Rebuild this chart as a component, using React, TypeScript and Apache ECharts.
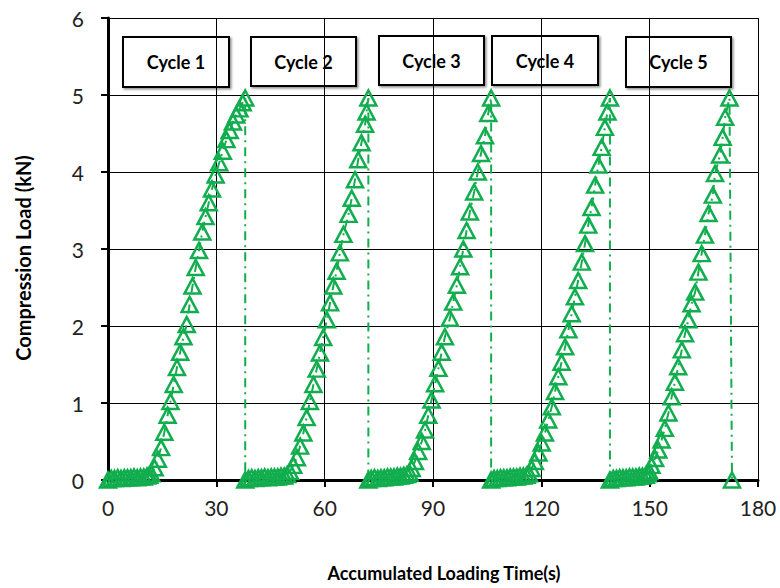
import React, { useEffect, useRef } from "react";
import * as echarts from "echarts";

// ---------- data ----------
const xTicks = [0, 30, 60, 90, 120, 150, 180];
const yTicks = [0, 1, 2, 3, 4, 5, 6];
const cycleLabels = ["Cycle 1", "Cycle 2", "Cycle 3", "Cycle 4", "Cycle 5"];

// Cycle 1
const cycle1Time = [0.0, 0.9, 1.8, 2.7, 3.6, 4.5, 5.4, 6.3, 7.2, 8.1, 9.0, 9.9, 10.8, 11.4,
  12.0, 12.9, 13.8, 14.7, 15.6, 16.5, 17.3, 18.2, 19.1, 20.0, 20.9, 21.8, 22.6, 23.4, 24.3, 25.2,
  26.1, 27.0, 27.9, 28.8, 29.8, 30.8, 31.8, 32.8, 33.7, 34.6, 35.5, 36.4, 37.3, 38.0];
const cycle1Load = [0.0, 0.02, 0.02, 0.03, 0.02, 0.03, 0.03, 0.03, 0.04, 0.03, 0.04, 0.04, 0.05, 0.06,
  0.08, 0.16, 0.27, 0.42, 0.62, 0.84, 1.02, 1.24, 1.46, 1.66, 1.86, 2.02, 2.28, 2.52, 2.76, 2.98,
  3.22, 3.42, 3.6, 3.78, 3.96, 4.12, 4.27, 4.42, 4.54, 4.65, 4.74, 4.82, 4.9, 4.96];

// Cycle 2
const cycle2Time = [38.0, 38.9, 39.8, 40.7, 41.6, 42.5, 43.4, 44.3, 45.2, 46.1, 47.0, 47.9, 48.8, 49.6,
  50.4, 51.3, 52.3, 53.2, 54.1, 55.0, 55.9, 56.9, 57.8, 58.7, 59.6, 60.6, 61.5, 62.4, 63.3, 64.2,
  65.2, 66.6, 67.5, 68.4, 69.3, 70.2, 71.2, 71.6, 72.1];
const cycle2Load = [0.0, 0.02, 0.03, 0.02, 0.03, 0.03, 0.04, 0.03, 0.04, 0.04, 0.04, 0.05, 0.05, 0.07,
  0.11, 0.19, 0.29, 0.44, 0.61, 0.81, 1.02, 1.24, 1.44, 1.65, 1.85, 2.08, 2.3, 2.52, 2.71, 2.95,
  3.19, 3.45, 3.66, 3.9, 4.16, 4.38, 4.62, 4.78, 4.96];

// Cycle 3
const cycle3Time = [72.1, 72.9, 73.8, 74.7, 75.6, 76.5, 77.4, 78.3, 79.2, 80.1, 81.0, 81.9, 82.8, 83.5,
  84.1, 85.0, 85.9, 86.9, 87.8, 88.7, 89.6, 90.6, 91.5, 92.4, 93.3, 94.7, 95.6, 96.6, 97.5, 98.4,
  99.3, 100.2, 101.4, 102.4, 103.3, 104.4, 105.3, 106.1];
const cycle3Load = [0.0, 0.02, 0.03, 0.02, 0.03, 0.03, 0.04, 0.04, 0.04, 0.05, 0.05, 0.06, 0.07, 0.09,
  0.15, 0.24, 0.37, 0.5, 0.65, 0.84, 1.04, 1.25, 1.45, 1.66, 1.86, 2.1, 2.31, 2.53, 2.77, 3.0,
  3.24, 3.48, 3.74, 4.0, 4.24, 4.47, 4.76, 4.96];

// Cycle 4
const cycle4Time = [106.1, 106.9, 107.8, 108.7, 109.6, 110.5, 111.4, 112.3, 113.2, 114.1, 115.0, 115.9, 116.6,
  117.3, 118.2, 119.2, 120.1, 121.0, 121.9, 122.9, 123.8, 124.7, 125.6, 126.6, 127.5, 128.4, 129.3,
  130.2, 131.2, 132.1, 133.0, 133.9, 134.9, 135.8, 136.7, 137.6, 138.3, 139.0];
const cycle4Load = [0.0, 0.02, 0.02, 0.03, 0.03, 0.03, 0.04, 0.04, 0.04, 0.05, 0.05, 0.06, 0.08,
  0.15, 0.24, 0.35, 0.48, 0.61, 0.78, 0.95, 1.15, 1.34, 1.53, 1.73, 1.95, 2.16, 2.38,
  2.59, 2.83, 3.07, 3.31, 3.54, 3.83, 4.09, 4.32, 4.58, 4.78, 4.96];

// Cycle 5
const cycle5Time = [139.0, 139.9, 140.8, 141.7, 142.6, 143.5, 144.4, 145.3, 146.2, 147.1, 148.0, 148.9, 149.5,
  149.9, 150.5, 151.5, 152.4, 153.3, 154.2, 155.2, 156.1, 157.0, 157.9, 158.9, 159.8, 160.7, 161.6,
  162.6, 163.5, 164.4, 165.3, 166.3, 167.5, 168.1, 169.5, 170.2, 170.9, 172.1, 172.8];
const cycle5Load = [0.0, 0.02, 0.02, 0.03, 0.03, 0.03, 0.04, 0.04, 0.04, 0.05, 0.05, 0.06, 0.08,
  0.11, 0.19, 0.28, 0.39, 0.52, 0.67, 0.87, 1.08, 1.27, 1.47, 1.69, 1.9, 2.08, 2.29,
  2.44, 2.7, 2.94, 3.18, 3.46, 3.7, 3.98, 4.22, 4.45, 4.71, 4.96, 0.0];

// ---------- layout / style ----------
const GREEN = "#12AD4E";
const FONT = "Lato";
const boxLayout = [
  { x: 123, y: 37, w: 106, h: 50 },
  { x: 251, y: 37, w: 105, h: 49 },
  { x: 379, y: 36, w: 105, h: 49 },
  { x: 492, y: 36, w: 106, h: 49 },
  { x: 626, y: 37, w: 105, h: 50 },
];

function zip(t: number[], v: number[]) {
  return t.map((x, i) => [x, v[i]]);
}

export default function App() {
  const ref = useRef<HTMLDivElement>(null);
  useEffect(() => {
    document.body.style.margin = "0";
    if (!ref.current) return;
    const chart = echarts.init(ref.current, null, { renderer: "svg" });
    const data = [
      ...zip(cycle1Time, cycle1Load),
      ...zip(cycle2Time, cycle2Load),
      ...zip(cycle3Time, cycle3Load),
      ...zip(cycle4Time, cycle4Load),
      ...zip(cycle5Time, cycle5Load),
    ];
    const graphics: any[] = [];
    cycleLabels.forEach((label, i) => {
      const b = boxLayout[i];
      graphics.push({
        type: "group",
        x: b.x,
        y: b.y,
        z: 100,
        children: [
          {
            type: "rect",
            shape: { x: 0, y: 0, width: b.w, height: b.h },
            style: {
              fill: "#fff",
              stroke: "#000",
              lineWidth: 2,
              shadowColor: "rgba(0,0,0,0.45)",
              shadowBlur: 2,
              shadowOffsetX: 1.5,
              shadowOffsetY: 1.5,
            },
          },
          {
            type: "text",
            x: b.w / 2,
            y: b.h / 2,
            style: {
              text: label,
              fill: "#000",
              font: `bold 18px ${FONT}`,
              align: "center",
              verticalAlign: "middle",
            },
          },
        ],
      });
    });
    chart.setOption({
      animation: false,
      backgroundColor: "#fff",
      grid: { left: 108, right: 22, top: 18, bottom: 108, containLabel: false },
      xAxis: {
        type: "value",
        min: xTicks[0],
        max: xTicks[xTicks.length - 1],
        interval: 30,
        name: "Accumulated Loading Time(s)",
        nameLocation: "middle",
        nameGap: 84,
        nameTextStyle: { fontFamily: FONT, fontWeight: "bold", fontSize: 18, color: "#000", padding: [0, 0, 0, 22] },
        axisLine: { show: true, onZero: false, lineStyle: { color: "#000", width: 3 } },
        axisTick: { show: true, inside: false, length: 7, lineStyle: { color: "#000", width: 2 } },
        axisLabel: { fontFamily: FONT, fontSize: 21, color: "#222", margin: 17 },
        splitLine: { show: true, lineStyle: { color: "#000", width: 1 } },
      },
      yAxis: {
        type: "value",
        min: yTicks[0],
        max: yTicks[yTicks.length - 1],
        interval: 1,
        name: "Compression Load (kN)",
        nameLocation: "middle",
        nameGap: 75,
        nameRotate: 90,
        nameTextStyle: { fontFamily: FONT, fontWeight: "bold", fontSize: 20, color: "#000", padding: [0, 18, 0, 0] },
        axisLine: { show: true, onZero: false, lineStyle: { color: "#000", width: 3 } },
        axisTick: { show: true, inside: false, length: 7, lineStyle: { color: "#000", width: 2 } },
        axisLabel: { fontFamily: FONT, fontSize: 21, color: "#222", margin: 24 },
        splitLine: { show: true, lineStyle: { color: "#000", width: 1 } },
      },
      series: [
        {
          type: "line",
          data,
          symbol: "triangle",
          symbolSize: [16, 15],
          showAllSymbol: true,
          itemStyle: { color: "rgba(0,0,0,0)", borderColor: GREEN, borderWidth: 2.5 },
          lineStyle: { color: GREEN, width: 2, type: [9, 5, 2, 5] },
          z: 3,
        },
      ],
      graphic: graphics,
    });
    return () => chart.dispose();
  }, []);
  return <div ref={ref} style={{ width: 780, height: 588 }} />;
}
